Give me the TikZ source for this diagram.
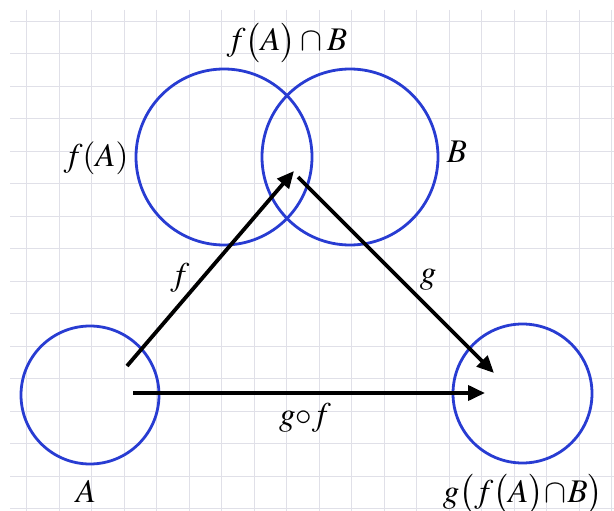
\documentclass[tikz,border=0pt]{standalone}
\usepackage{mathptmx}
\usepackage{anyfontsize}
\usetikzlibrary{arrows.meta}
\definecolor{gridc}{RGB}{224,224,232}
\definecolor{setblue}{RGB}{40,60,210}
\tikzset{
  setc/.style={circle, draw=setblue, line width=2.8pt, inner sep=0pt},
  maparrow/.style={line width=3.8pt, -{Triangle[length=17pt,width=15pt]}},
  lbl/.style={inner sep=0pt, anchor=base, font=\fontsize{33}{40}\selectfont}
}
\begin{document}
\begin{tikzpicture}[x=1pt,y=-1pt]
\useasboundingbox (0,0) rectangle (614,511);
\fill[white] (0,0) rectangle (614,511);
% grid
\begin{scope}
\clip (10,10) rectangle (614,511);
\foreach \i in {0,...,18} {\draw[gridc, line width=0.9pt] (26.7+32.5*\i,10) -- (26.7+32.5*\i,511);}
\foreach \j in {0,...,15} {\draw[gridc, line width=0.9pt] (10,21+32.5*\j) -- (614,21+32.5*\j);}
\end{scope}
% sets
\node[setc, minimum size=138pt] (cA) at (90,395) {};
\node[setc, minimum size=139pt] (cG) at (522.5,393.5) {};
\node[setc, minimum size=176pt] (cFA) at (224,157) {};
\node[setc, minimum size=176pt] (cB) at (350,157) {};
% arrow end points
\coordinate (fs) at (127,366);
\coordinate (fe) at (294,171);
\coordinate (gs) at (298,177);
\coordinate (ge) at (494,373);
\coordinate (hs) at (133,393);
\coordinate (he) at (485,393);
\draw[maparrow] (fs) -- (fe);
\draw[maparrow] (gs) -- (ge);
\draw[maparrow] (hs) -- (he);
% labels
\node[lbl] (lFAB) at (287,51) {$f\bigl(A\bigr)\cap B$};
\node[lbl] (lFA) at (96,167) {$f(A)$};
\node[lbl] (lB) at (457,162) {$B$};
\node[lbl] (lf) at (180,285) {$f$};
\node[lbl] (lg) at (428,283) {$g$};
\node[lbl] (lgf) at (305,425) {$g{\circ}f$};
\node[lbl] (lA) at (86,502) {$A$};
\node[lbl, anchor=base east] (lG) at (603,502) {$g\bigl(f\bigl(A\bigr)\!\cap\! B\bigr)$};
\end{tikzpicture}
\end{document}
